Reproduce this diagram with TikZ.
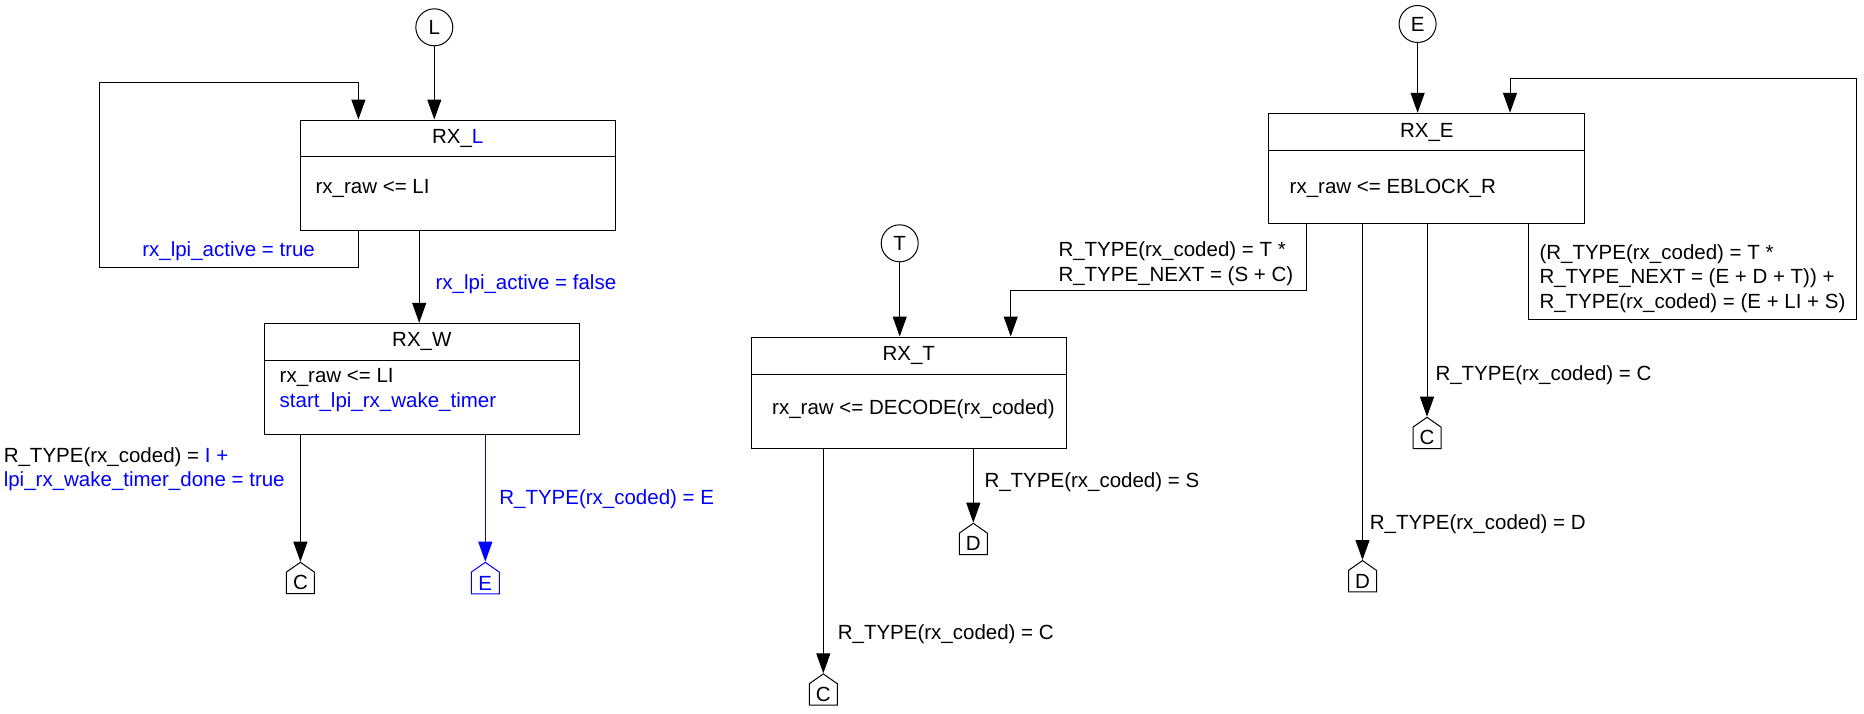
\documentclass[tikz,border=0pt]{standalone}
\usepackage{fontspec}
\setmainfont{Liberation Sans}
\usetikzlibrary{arrows.meta,fit,shapes.symbols}

\begin{document}
\begin{tikzpicture}[x=0.5pt,y=-0.5pt,line width=0.5pt,
  every node/.style={font=\fontsize{10.25}{12.25}\selectfont},
  startcirc/.style={draw, circle, minimum size=18.5pt, inner sep=0pt},
  statebox/.style={draw, inner sep=0pt},
  offpage/.style={draw, signal, signal to=north, signal pointer angle=110,
    minimum width=14pt, minimum height=13.3pt, inner sep=0pt, anchor=north},
  cond/.style={anchor=west, align=left, inner sep=0pt},
  arr/.style={-{Triangle[length=10pt,width=7pt]}}]
\useasboundingbox (0,0) rectangle (1864,713);

% entry points
\node[startcirc] (L) at (434.3,27.3) {L};
\node[startcirc] (T) at (899.7,243.3) {T};
\node[startcirc] (E) at (1417.6,24) {E};

% states
\node[statebox, fit={(300.4,120) (615.1,156.7)}] (rxlT) {};
\node[statebox, fit={(300.4,156.7) (615.1,230.3)}] (rxl) {};
\node at (rxlT) {RX\_\textcolor{blue}{L}};
\node[cond] at (315.1,188.5) {rx\_raw <= LI};

\node[statebox, fit={(264.5,323.3) (579.2,360.3)}] (rxwT) {};
\node[statebox, fit={(264.5,360.3) (579.2,434.3)}] (rxw) {};
\node at (rxwT) {RX\_W};
\node[cond] at (279.2,390) {rx\_raw <= LI\\\textcolor{blue}{start\_lpi\_rx\_wake\_timer}};

\node[statebox, fit={(751.3,337) (1066.3,374.3)}] (rxtT) {};
\node[statebox, fit={(751.3,374.3) (1066.3,448.3)}] (rxt) {};
\node at (rxtT) {RX\_T};
\node[cond] at (771.7,409) {rx\_raw <= DECODE(rx\_coded)};

\node[statebox, fit={(1268.8,113.3) (1584.8,150.7)}] (rxeT) {};
\node[statebox, fit={(1268.8,150.7) (1584.8,223.7)}] (rxe) {};
\node at (rxeT) {RX\_E};
\node[cond] at (1289.2,188) {rx\_raw <= EBLOCK\_R};

% off-page connectors
\node[offpage] (cW) at (300.4,561.7) {C};
\node[offpage, blue] (eW) at (485.3,561.7) {E};
\node[offpage] (dT) at (973.3,522.7) {D};
\node[offpage] (cT) at (823.3,673.3) {C};
\node[offpage] (cE) at (1427,416.7) {C};
\node[offpage] (dE) at (1362.5,560) {D};

\coordinate (lpa) at (358.4,267.3);
\coordinate (lpb) at (99.6,82.7);
\coordinate (lw) at (419.2,0);
\coordinate (et) at (1306.8,290.7);
\coordinate (te) at (1010.7,0);
\coordinate (ela) at (1528.8,319.3);
\coordinate (elb) at (1856.1,78.7);
\coordinate (elc) at (1510,0);

% RX_L
\draw[arr] (L) -- (L |- rxlT.north);
\draw[arr] (rxl.south -| lpa) -- (lpa) -| (lpb) -| (rxlT.north -| lpa);
\node[blue] at (228.6,251) {rx\_lpi\_active = true};
\draw[arr] (rxl.south -| lw) -- (rxwT.north -| lw);
\node[cond, blue] at (435.1,284) {rx\_lpi\_active = false};

% RX_W
\draw[arr] (rxw.south -| cW) -- (cW.north);
\node[cond] at (3.3,469) {R\_TYPE(rx\_coded) = \textcolor{blue}{I +}\\\textcolor{blue}{lpi\_rx\_wake\_timer\_done = true}};
\draw[arr, blue] (rxw.south -| eW) -- (eW.north);
\node[cond, blue] at (498.8,499) {R\_TYPE(rx\_coded) = E};

% RX_T
\draw[arr] (T) -- (T |- rxtT.north);
\draw[arr] (rxt.south -| dT) -- (dT.north);
\node[cond] at (984,482) {R\_TYPE(rx\_coded) = S};
\draw[arr] (rxt.south -| cT) -- (cT.north);
\node[cond] at (837.3,634) {R\_TYPE(rx\_coded) = C};

% RX_E
\draw[arr] (E) -- (E |- rxeT.north);
\draw[arr] (rxe.south -| et) -- (et) -| (rxtT.north -| te);
\node[cond] at (1058,263.5) {R\_TYPE(rx\_coded) = T *\\R\_TYPE\_NEXT = (S + C)};
\draw[arr] (rxe.south -| ela) -- (ela) -| (elb) -| (rxeT.north -| elc);
\node[cond] at (1539,278.5) {(R\_TYPE(rx\_coded) = T *\\R\_TYPE\_NEXT = (E + D + T)) +\\R\_TYPE(rx\_coded) = (E + LI + S)};
\draw[arr] (rxe.south -| cE) -- (cE.north);
\node[cond] at (1435,375.5) {R\_TYPE(rx\_coded) = C};
\draw[arr] (rxe.south -| dE) -- (dE.north);
\node[cond] at (1369.3,524.5) {R\_TYPE(rx\_coded) = D};
\end{tikzpicture}
\end{document}
